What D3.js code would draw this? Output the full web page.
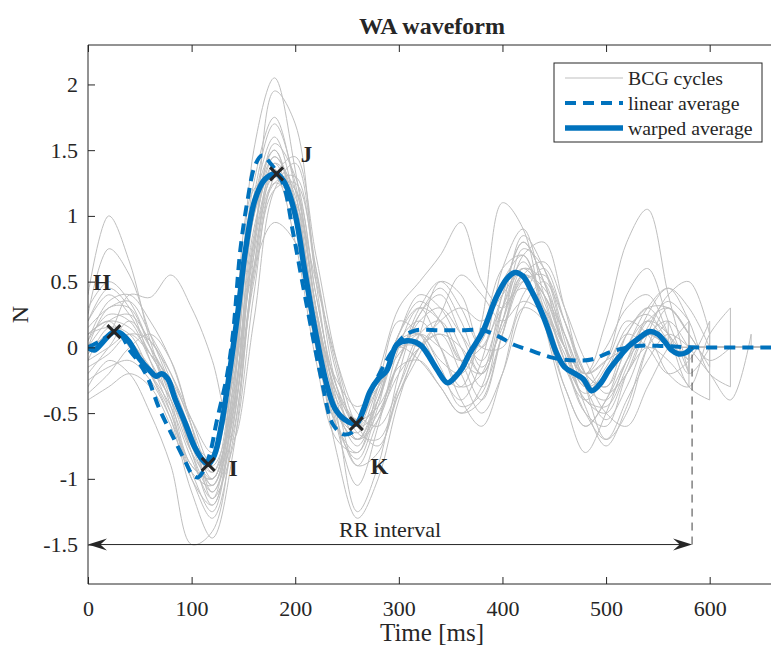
<!DOCTYPE html>
<html>
<head>
<meta charset="utf-8">
<script src="https://cdn.jsdelivr.net/npm/d3@7"></script>
<style>
  body { margin: 0; background: #fff; }
  svg { display: block; font-family: "Liberation Serif", "Times New Roman", serif; }
</style>
</head>
<body>
<script>
// sample times (ms) shared by all BCG cycles
const tGrid = d3.range(0, 660, 20)

// single BCG cycles, one value per tGrid step; cycle stops at its last value
const bcg1  = [0.20, 0.45, 0.30, -0.10, -0.50, -1.00, -1.20, -0.40, 1.50, 2.05, 1.35, 0.30, -0.60, -1.05, -0.60, 0.00, 0.30, 0.20, -0.10, 0.05, 0.50, 0.70, 0.30, -0.15, -0.40, -0.20, 0.15, 0.25, 0.05, -0.10]
const bcg2  = [-0.10, 0.15, 0.10, -0.20, -0.55, -1.10, -1.45, -0.80, 0.70, 1.95, 1.70, 0.50, -0.50, -1.25, -0.90, -0.20, 0.25, 0.40, 0.10, -0.20, 0.20, 0.75, 0.60, 0.10, -0.30, -0.40, -0.10, 0.20, 0.30, 0.10, -0.15]
const bcg3  = [0.40, 1.00, 0.65, 0.05, -0.40, -0.90, -1.00, -0.30, 1.10, 1.60, 1.10, 0.20, -0.50, -0.70, -0.40, 0.10, 0.40, 0.30, 0.00, -0.30, 0.10, 0.55, 0.40, 0.00, -0.30, -0.10, 0.40, 0.60, 0.20, -0.20]
const bcg4  = [0.25, 0.75, 0.55, 0.10, -0.30, -0.80, -1.10, -0.50, 1.00, 1.50, 1.00, 0.00, -0.60, -0.80, -0.30, 0.20, 0.10, -0.20, -0.40, -0.10, 0.60, 0.90, 0.40, -0.10, -0.50, -0.60, -0.20, 0.10, 0.00]
const bcg5  = [-0.30, -0.10, -0.20, -0.50, -0.90, -1.50, -1.40, -0.60, 0.60, 1.40, 1.20, 0.30, -0.40, -0.90, -0.80, -0.30, 0.10, 0.20, -0.10, -0.40, 0.10, 0.60, 0.50, 0.00, -0.40, -0.50, -0.20, 0.00, -0.10, -0.30]
const bcg6  = [0.00, 0.10, 0.40, 0.38, 0.55, 0.30, -0.10, -0.70, 0.20, 1.20, 1.40, 0.60, -0.30, -0.70, -0.50, -0.10, 0.30, 0.50, 0.30, 0.00, 0.40, 0.80, 0.50, 0.00, -0.20, 0.20, 0.80, 1.05, 0.40, -0.20]
const bcg7  = [0.10, 0.20, 0.15, -0.05, -0.35, -0.75, -0.95, -0.20, 1.00, 1.45, 1.15, 0.30, -0.35, -0.55, -0.30, 0.00, -0.10, -0.30, -0.50, -0.30, 0.30, 0.65, 0.35, -0.10, -0.35, -0.15, 0.10, 0.00, -0.20, -0.10, 0.20]
const bcg8  = [-0.20, 0.00, 0.20, 0.00, -0.30, -0.80, -1.20, -0.60, 0.80, 1.55, 1.30, 0.40, -0.30, -0.60, -0.50, -0.20, 0.00, 0.10, 0.00, -0.20, 0.20, 0.70, 0.80, 0.30, -0.20, -0.30, 0.00, 0.30, 0.45, 0.20, -0.20, -0.30]
const bcg9  = [0.05, 0.25, 0.20, -0.10, -0.40, -0.70, -0.85, 0.00, 1.20, 1.30, 0.80, -0.10, -0.70, -0.80, -0.40, 0.10, 0.30, 0.00, -0.40, -0.60, -0.20, 0.30, 0.20, -0.30, -0.60, -0.40, 0.00, 0.20, 0.00]
const bcg10 = [-0.15, -0.05, 0.10, 0.05, -0.25, -0.65, -1.00, -0.40, 0.70, 1.25, 1.10, 0.50, -0.10, -0.50, -0.60, -0.30, 0.10, 0.50, 0.40, 0.00, 0.00, 0.40, 0.60, 0.20, -0.30, -0.70, -0.50, 0.00, 0.30, 0.10]
const bcg11 = [0.15, 0.30, 0.35, 0.10, -0.20, -0.60, -0.95, -0.50, 0.50, 1.20, 1.25, 0.60, -0.20, -0.60, -0.40, 0.00, 0.10, -0.10, -0.20, 0.10, 0.60, 0.70, 0.20, -0.30, -0.60, -0.40, -0.10, 0.10, 0.20, 0.00, -0.20, -0.40, 0.10]
const bcg12 = [-0.40, -0.30, -0.20, -0.30, -0.60, -1.00, -1.30, -0.70, 0.60, 1.35, 1.00, 0.10, -0.80, -1.30, -1.00, -0.40, 0.00, 0.10, -0.20, -0.50, -0.20, 0.30, 0.50, 0.20, -0.20, -0.30, 0.10, 0.30, 0.10, -0.10]
const bcg13 = [0.00, 0.30, 0.30, 0.00, -0.30, -0.75, -1.05, -0.45, 0.90, 1.40, 1.00, 0.20, -0.40, -0.60, -0.20, 0.30, 0.50, 0.70, 0.95, 0.50, 0.30, 0.50, 0.30, -0.10, -0.50, -0.70, -0.40, -0.10, 0.10, 0.00]
const bcg14 = [0.10, 0.20, 0.00, -0.20, -0.45, -0.85, -1.15, -0.30, 1.10, 1.50, 0.95, 0.00, -0.50, -0.65, -0.30, 0.00, 0.00, -0.20, -0.30, 0.20, 1.10, 0.90, 0.20, -0.40, -0.80, -0.50, -0.10, 0.20, 0.10, -0.20, 0.00]
const bcg15 = [-0.05, 0.10, 0.05, -0.20, -0.50, -0.90, -1.00, -0.20, 1.15, 1.70, 1.25, 0.30, -0.45, -0.75, -0.40, 0.05, 0.20, 0.00, -0.30, -0.20, 0.40, 0.80, 0.50, 0.00, -0.30, -0.20, 0.10, 0.30, 0.30, 0.10, -0.10, 0.00]
const bcg16 = [0.20, 0.40, 0.25, -0.05, -0.30, -0.70, -1.05, -0.55, 0.75, 1.30, 1.20, 0.40, -0.30, -0.55, -0.45, -0.10, 0.20, 0.30, 0.10, -0.10, 0.30, 0.60, 0.40, 0.00, -0.20, 0.00, 0.30, 0.40, 0.10, -0.30, -0.40]
const bcg17 = [-0.10, 0.00, 0.10, -0.05, -0.25, -0.55, -0.80, -0.25, 0.60, 0.95, 0.80, 0.20, -0.25, -0.45, -0.30, -0.05, 0.10, 0.00, -0.10, 0.00, 0.30, 0.45, 0.30, 0.00, -0.20, -0.10, 0.00, 0.10, 0.00]
const bcg18 = [0.05, 0.35, 0.40, 0.20, -0.10, -0.60, -1.15, -0.75, 0.40, 1.30, 1.45, 0.70, -0.10, -0.60, -0.75, -0.35, 0.00, 0.20, 0.30, 0.20, 0.40, 0.60, 0.40, 0.10, -0.30, -0.55, -0.30, 0.10, 0.40, 0.50, 0.10]
const bcg19 = [-0.25, -0.15, -0.10, -0.25, -0.55, -0.95, -1.25, -0.50, 0.85, 1.45, 1.10, 0.20, -0.55, -0.90, -0.55, -0.15, -0.10, -0.30, -0.50, -0.40, 0.10, 0.50, 0.55, 0.20, -0.20, -0.50, -0.60, -0.30, 0.00, 0.20]
const bcg20 = [0.10, 0.15, 0.05, -0.15, -0.40, -0.80, -1.00, -0.35, 1.00, 1.35, 0.95, 0.10, -0.50, -0.70, -0.35, 0.10, 0.35, 0.20, -0.10, -0.20, 0.20, 0.55, 0.45, 0.10, -0.20, -0.10, 0.20, 0.10, -0.20, -0.30, 0.10, 0.30]
const bcg21 = [0.00, 0.20, 0.25, 0.05, -0.20, -0.55, -0.90, -0.45, 0.80, 1.35, 1.05, 0.25, -0.35, -0.70, -0.55, -0.10, 0.25, 0.45, 0.20, -0.15, 0.15, 0.55, 0.65, 0.30, -0.10, -0.35, -0.20, 0.15, 0.35, 0.20]
const bcg22 = [-0.35, -0.20, 0.00, 0.10, -0.10, -0.60, -1.10, -0.65, 0.55, 1.25, 1.30, 0.55, -0.15, -0.65, -0.70, -0.35, -0.05, 0.25, 0.55, 0.40, 0.20, 0.35, 0.25, -0.05, -0.40, -0.45, -0.15, 0.25, 0.45, 0.30, 0.00]
const bcg23 = [0.30, 0.50, 0.35, 0.00, -0.45, -0.95, -1.05, -0.15, 1.25, 1.75, 1.20, 0.15, -0.60, -0.85, -0.45, 0.05, 0.10, -0.15, -0.45, -0.35, 0.30, 0.85, 0.60, 0.05, -0.45, -0.75, -0.45, 0.00, 0.20]
const bcgCycles = [bcg1, bcg2, bcg3, bcg4, bcg5, bcg6, bcg7, bcg8, bcg9, bcg10, bcg11, bcg12,
                   bcg13, bcg14, bcg15, bcg16, bcg17, bcg18, bcg19, bcg20, bcg21, bcg22, bcg23]

// linear (plain) average
const linT = [0, 12, 25, 33, 40, 47, 57, 69, 82, 94, 100, 106, 112, 118, 124, 134, 140, 147, 154, 161, 168, 176, 188, 198, 207, 217, 226, 236, 246, 254, 262, 270, 280, 292, 304, 317, 340, 360, 381, 397, 411, 426, 449, 472, 487, 506, 530, 555, 583, 664]
const linV = [0.00, 0.05, 0.11, 0.08, -0.02, -0.09, -0.22, -0.47, -0.68, -0.87, -0.96, -0.99, -0.93, -0.80, -0.57, -0.22, 0.11, 0.74, 1.12, 1.38, 1.46, 1.40, 1.25, 0.87, 0.49, 0.08, -0.27, -0.58, -0.66, -0.65, -0.55, -0.38, -0.22, -0.05, 0.08, 0.13, 0.13, 0.13, 0.13, 0.08, 0.02, -0.02, -0.08, -0.10, -0.09, -0.03, 0.01, 0.01, 0.00, 0.00]

// warped average
const warpT = [0, 6, 12, 20, 25, 31, 39, 50, 60, 66, 71, 77, 84, 94, 103, 111, 116, 122, 129, 137, 145, 152, 161, 171, 182, 190, 200, 209, 219, 229, 238, 248, 259, 266, 272, 280, 288, 298, 308, 316, 322, 330, 337, 347, 355, 361, 368, 381, 394, 404, 412, 420, 428, 436, 444, 452, 460, 470, 478, 486, 494, 503, 513, 522, 530, 542, 550, 556, 563, 570, 577, 583]
const warpV = [0.00, -0.02, 0.02, 0.09, 0.12, 0.11, 0.05, -0.09, -0.18, -0.22, -0.20, -0.24, -0.39, -0.58, -0.76, -0.86, -0.89, -0.82, -0.58, -0.17, 0.29, 0.74, 1.12, 1.28, 1.32, 1.25, 1.01, 0.59, 0.14, -0.24, -0.46, -0.55, -0.58, -0.47, -0.34, -0.24, -0.18, 0.02, 0.05, 0.04, 0.01, -0.08, -0.17, -0.27, -0.22, -0.16, -0.05, 0.12, 0.38, 0.52, 0.57, 0.54, 0.43, 0.30, 0.14, -0.04, -0.15, -0.20, -0.24, -0.33, -0.28, -0.17, -0.07, 0.01, 0.06, 0.12, 0.10, 0.05, -0.02, -0.05, -0.04, 0.00]

// fiducial points on the warped average
const pointNames = ['H', 'I', 'J', 'K']
const pointT = [25, 116, 182, 259]
const pointV = [0.12, -0.89, 1.32, -0.58]

const rrInterval = 583
const xTicks = [0, 100, 200, 300, 400, 500, 600]
const yTicks = [-1.5, -1, -0.5, 0, 0.5, 1, 1.5, 2]
const legendNames = ['BCG cycles', 'linear average', 'warped average']

const W = 771, H = 648
const plotL = 88, plotR = 776, plotT = 45, plotB = 584
const axColor = '#262626'
const blue = '#0072bd'
const gray = '#bfbfbf'

const svg = d3.select('body').append('svg')
    .attr('width', W)
    .attr('height', H)

const x = d3.scaleLinear().domain([0, 664]).range([plotL, plotR])
const y = d3.scaleLinear().domain([-1.8, 2.3]).range([plotB, plotT])

svg.append('defs').append('clipPath')
    .attr('id', 'plot')
    .append('rect')
    .attr('x', plotL).attr('y', plotT)
    .attr('width', plotR - plotL).attr('height', plotB - plotT)

const plot = svg.append('g').attr('clip-path', 'url(#plot)')

const smooth = d3.line()
    .x(d => x(d[0]))
    .y(d => y(d[1]))
    .curve(d3.curveCatmullRom)

// gray cycles, each drops to zero where it ends and is zero-padded after
plot.append('g')
    .selectAll('path')
    .data(bcgCycles)
    .join('path')
    .attr('fill', 'none')
    .attr('stroke', gray)
    .attr('stroke-width', 1)
    .attr('d', vals => {
        const pts = vals.map((v, i) => [tGrid[i], v])
        const tEnd = pts[pts.length - 1][0]
        return smooth(pts) + `L${x(tEnd)},${y(0)}L${x(664)},${y(0)}`
    })

plot.append('path')
    .attr('fill', 'none')
    .attr('stroke', blue)
    .attr('stroke-width', 4)
    .attr('stroke-dasharray', '11,7')
    .attr('d', smooth(linT.map((t, i) => [t, linV[i]])))

plot.append('path')
    .attr('fill', 'none')
    .attr('stroke', blue)
    .attr('stroke-width', 5.5)
    .attr('stroke-linejoin', 'round')
    .attr('d', smooth(warpT.map((t, i) => [t, warpV[i]])))

// x markers
const cross = 6.5
plot.append('g')
    .selectAll('path')
    .data(pointT)
    .join('path')
    .attr('stroke', axColor)
    .attr('stroke-width', 3)
    .attr('d', (t, i) => {
        const cx = x(t), cy = y(pointV[i])
        return `M${cx - cross},${cy - cross}L${cx + cross},${cy + cross}M${cx - cross},${cy + cross}L${cx + cross},${cy - cross}`
    })

// axes (ticks point inward, MATLAB style)
const bottomAxis = svg.append('g')
    .attr('transform', `translate(0,${plotB})`)
    .call(d3.axisBottom(x).tickValues(xTicks).tickSize(-7).tickPadding(16).tickFormat(d => String(d)))
const topAxis = svg.append('g')
    .attr('transform', `translate(0,${plotT})`)
    .call(d3.axisTop(x).tickValues(xTicks).tickSize(-7).tickFormat(''))
const leftAxis = svg.append('g')
    .attr('transform', `translate(${plotL},0)`)
    .call(d3.axisLeft(y).tickValues(yTicks).tickSize(-7).tickPadding(10).tickFormat(d => String(d)))

for (const ax of [bottomAxis, topAxis, leftAxis]) {
    ax.select('.domain').attr('stroke', axColor).attr('stroke-width', 1)
    ax.selectAll('.tick line').attr('stroke', axColor)
    ax.selectAll('text')
        .attr('fill', axColor)
        .style('font-family', '"Liberation Serif", serif')
        .style('font-size', '22px')
}
topAxis.select('.domain').attr('d', `M${plotL},0H${plotR}`)
bottomAxis.select('.domain').attr('d', `M${plotL},0H${plotR}`)
leftAxis.select('.domain').attr('d', `M0,${plotT}V${plotB}`)

// labels
svg.append('text')
    .attr('x', (plotL + plotR) / 2)
    .attr('y', 34)
    .attr('text-anchor', 'middle')
    .attr('font-weight', 'bold')
    .attr('font-size', 24)
    .attr('fill', axColor)
    .text('WA waveform')

svg.append('text')
    .attr('x', (plotL + plotR) / 2)
    .attr('y', 641)
    .attr('text-anchor', 'middle')
    .attr('font-size', 25)
    .attr('fill', axColor)
    .text('Time [ms]')

svg.append('text')
    .attr('transform', `translate(28,${(plotT + plotB) / 2}) rotate(-90)`)
    .attr('text-anchor', 'middle')
    .attr('font-size', 24)
    .attr('fill', axColor)
    .text('N')

// fiducial point names
const nameDx = [-12, 25, 30, 23]
const nameDy = [-42, 12, -12, 50]
svg.append('g')
    .selectAll('text')
    .data(pointNames)
    .join('text')
    .attr('x', (n, i) => x(pointT[i]) + nameDx[i])
    .attr('y', (n, i) => y(pointV[i]) + nameDy[i])
    .attr('text-anchor', 'middle')
    .attr('font-weight', 'bold')
    .attr('font-size', 23)
    .attr('fill', axColor)
    .text(n => n)

// RR interval double arrow
const ay = y(-1.5)
const x0 = x(0), x1 = x(rrInterval)
svg.append('line')
    .attr('x1', x1).attr('x2', x1)
    .attr('y1', ay).attr('y2', y(0))
    .attr('stroke', '#404040')
    .attr('stroke-width', 1)
    .attr('stroke-dasharray', '8,6')
svg.append('line')
    .attr('x1', x0 + 4).attr('x2', x1 - 4)
    .attr('y1', ay).attr('y2', ay)
    .attr('stroke', axColor)
    .attr('stroke-width', 1)
const headL = 19, headW = 6
svg.append('path')
    .attr('fill', axColor)
    .attr('d', `M${x0},${ay}L${x0 + headL},${ay - headW}L${x0 + headL * 0.65},${ay}L${x0 + headL},${ay + headW}Z` +
               `M${x1},${ay}L${x1 - headL},${ay - headW}L${x1 - headL * 0.65},${ay}L${x1 - headL},${ay + headW}Z`)
svg.append('text')
    .attr('x', (x0 + x1) / 2)
    .attr('y', ay - 8)
    .attr('text-anchor', 'middle')
    .attr('font-size', 22)
    .attr('fill', axColor)
    .text('RR interval')

// legend
const legend = svg.append('g')
legend.append('rect')
    .attr('x', 554).attr('y', 63)
    .attr('width', 208).attr('height', 79)
    .attr('fill', '#fff')
    .attr('stroke', axColor)
    .attr('stroke-width', 1)
const legY = [78, 103, 128]
const legStroke = [gray, blue, blue]
const legWidth = [1, 4, 5.5]
const legDash = [null, '11,7', null]
legend.selectAll('line')
    .data(legendNames)
    .join('line')
    .attr('x1', 565).attr('x2', 623)
    .attr('y1', (d, i) => legY[i]).attr('y2', (d, i) => legY[i])
    .attr('stroke', (d, i) => legStroke[i])
    .attr('stroke-width', (d, i) => legWidth[i])
    .attr('stroke-dasharray', (d, i) => legDash[i])
legend.selectAll('text')
    .data(legendNames)
    .join('text')
    .attr('x', 628)
    .attr('y', (d, i) => legY[i] + 7)
    .attr('font-size', 19.8)
    .attr('fill', axColor)
    .text(d => d)
</script>
</body>
</html>
